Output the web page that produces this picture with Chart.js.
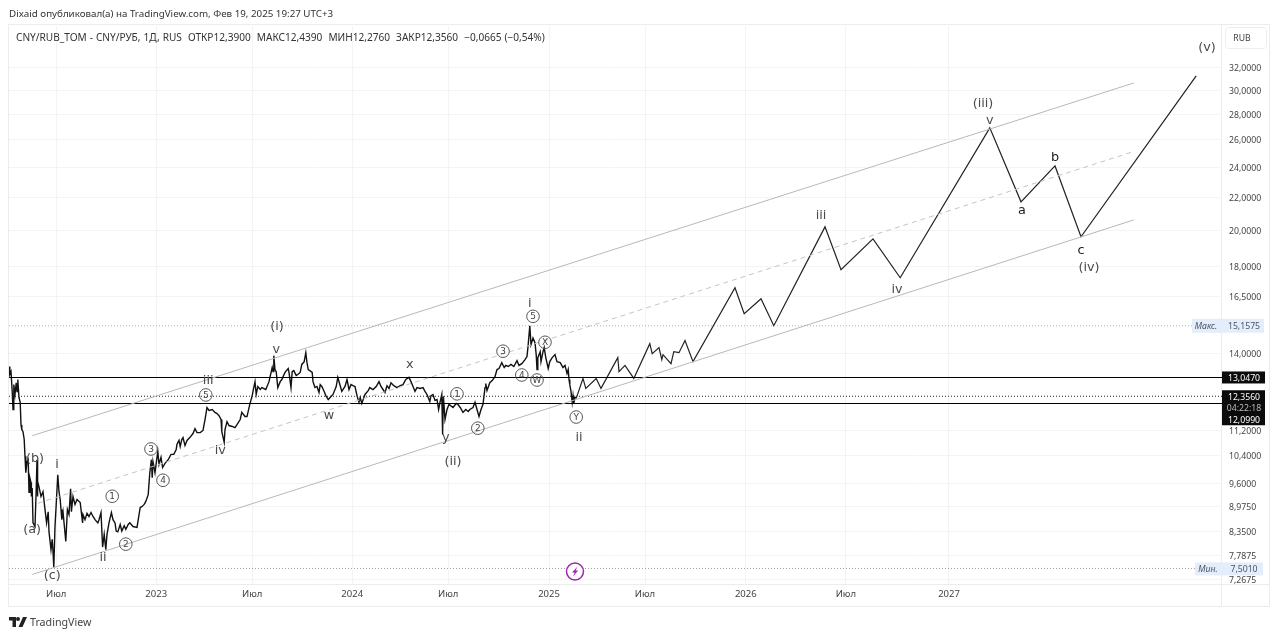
<!DOCTYPE html>
<html>
<head>
<meta charset="utf-8">
<title>CNY/RUB_TOM</title>
<script src="https://cdn.jsdelivr.net/npm/chart.js@4/dist/chart.umd.min.js"></script>
<style>
    html, body { margin: 0; padding: 0; background: #fff; overflow: hidden; }
    #wrap { position: relative; width: 1280px; height: 638px; }
    canvas { position: absolute; left: 0; top: 0; }
    .txt { position: absolute; font-family: "Noto Sans", sans-serif; color: #333; white-space: nowrap; }
    #publisher { left: 9px; top: 7px; font-size: 9.77px; }
    #legend { left: 16px; top: 30px; font-size: 10.1px; word-spacing: 0.4px; }
    #brand { left: 30px; top: 615px; font-size: 10.7px; color: #444; }
    #logo { position: absolute; left: 9px; top: 617px; }
</style>
</head>
<body>
<div id="wrap">
    <canvas id="chart" width="1280" height="638"></canvas>
    <div class="txt" id="publisher">Dixaid опубликовал(а) на TradingView.com, Фев 19, 2025 19:27 UTC+3</div>
    <div class="txt" id="legend">CNY/RUB_TOM - CNY/РУБ, 1Д, RUS&nbsp; ОТКР12,3900&nbsp; МАКС12,4390&nbsp; МИН12,2760&nbsp; ЗАКР12,3560&nbsp; −0,0665 (−0,54%)</div>
    <svg id="logo" width="18" height="10" viewBox="0 0 36 20"><path fill="#222" d="M0 0h14v20H7V7H0zM18 0a4 4 0 1 1 0 8 4 4 0 0 1 0-8zM28 0h8l-9 20h-8z"/></svg>
    <div class="txt" id="brand">TradingView</div>
</div>

<script>
// ---------------- DATA ----------------

// x is the daily bar number, y the price in RUB
const priceBars = [
    0,1,2.5,4,5,6,7.5,9,10,11,12.5,14,15,16,17.5,19,20,21,22.5,24,25,26,27.5,28,29,30,32.5,34,35,35.5,36,37.5,40,42.5,45,47,49,50,52.5,54,55,56,57.5,59,
    61,62.5,64,65,66,67.5,71,73,75,77,78,80,82.5,85,89,92,92.5,95,97.5,100,102.5,105,107.5,111,112.5,115,117,119,121,122.5,125,128,130,132.5,134,136,139,141,144,146,149,151,155,160,164,166,169,171,174,176,178,179,180,182.5,186,187.5,190,192,195,199,
    202.5,206,209,210,212.5,214,216,217.5,220,222.5,226,230,232.5,235,239,242.5,245,247.5,250,254,257.5,260,262.5,265,266,269,270,272.5,275,279,282.5,285,289,291,295,297.5,
    301,304,305,307.5,309,311,314,316,321,325,329,330,331,332.5,334,336,339,341,345,349,350,352.5,354,356,359,361,364,366,369,371,372.5,374,376,379,380,382.5,385,387.5,389,391,394,396,399,
    402.5,405,409,411,414,416,420,422.5,425,427.5,430,432.5,435,437.5,439,441,445,449,451,455,459,462.5,465,467.5,470,472.5,475,477.5,481,485,489,492.5,496,500,502.5,505,507.5,510,514,517.5,520,522.5,526,527.5,530,532.5,535,537,539,541,542,543,545,547.5,550,555,559,561,564,567.5,571,574,576,580,582.5,585,587.5,590,592.5,595,596,597.5,
    601,604,607.5,610,612.5,616,619,621,624,627.5,631,635,637.5,641,645,647.5,649,651,652.5,655,657.5,659,660,661,664,665,667.5,669,671,674,676,679,682.5,685,689,692.5,695,697.5,699,700,701,702.5,704,705,706,707.5,709
];
const priceValues = [
    13.47,13.16,13.27,12.53,11.89,12.78,12.42,12.85,12.53,12.97,12.31,12.14,11.38,11.22,11.15,10.90,10.38,9.90,10.22,10.28,9.35,9.76,9.62,9.24,9.47,8.56,8.47,9.43,10.28,9.24,9.65,9.50,9.24,9.37,8.90,8.56,8.84,8.34,7.92,8.16,7.88,7.52,8.47,9.03,
    9.84,9.37,9.16,8.90,8.64,8.84,8.11,8.90,8.77,9.45,8.84,9.24,9.03,9.16,9.08,8.56,8.77,8.64,8.80,8.72,8.82,8.72,8.64,8.56,8.64,8.82,7.98,8.28,7.92,8.28,8.56,8.82,8.64,8.56,8.36,8.34,8.52,8.36,8.49,8.40,8.52,8.56,8.47,8.45,8.95,8.97,9.03,9.11,9.29,9.90,10.28,9.76,10.22,9.90,10.53,10.14,10.35,10.05,10.17,10.28,
    10.44,10.44,10.59,10.75,10.87,10.68,10.90,10.96,10.71,10.87,10.96,11.09,11.25,11.12,11.12,11.19,11.55,11.96,11.86,11.89,11.79,11.75,11.68,11.55,11.15,10.81,11.22,11.48,11.35,11.32,11.28,11.38,11.55,11.79,11.65,11.65,
    12.07,12.38,12.53,12.89,12.42,12.71,12.60,12.67,12.60,12.89,13.43,13.27,13.90,13.35,13.27,12.67,12.89,12.97,13.24,13.39,13.24,12.67,13.27,13.31,13.12,13.16,13.24,13.55,13.66,14.02,13.62,13.35,13.31,13.24,12.89,12.67,12.71,12.49,12.78,12.71,12.53,12.38,12.24,
    12.35,12.42,12.71,13.05,12.74,12.53,12.71,12.97,12.60,12.78,12.74,12.71,12.38,12.14,12.31,12.10,12.42,12.56,12.67,12.60,12.71,12.89,12.71,12.60,12.49,12.74,12.64,12.85,12.74,12.67,12.74,12.78,12.97,13.05,12.89,12.71,12.53,12.67,12.64,12.67,12.53,12.42,12.17,12.38,12.42,12.21,12.24,11.89,12.17,12.42,11.06,12.35,11.55,11.89,12.07,11.96,12.10,12.07,11.96,11.79,11.89,11.82,11.89,11.96,12.14,11.89,11.65,11.89,12.07,12.67,12.82,12.56,
    12.85,12.93,13.08,13.35,13.39,13.62,13.43,13.51,13.47,13.55,13.47,13.70,13.51,13.58,13.74,13.86,14.35,15.16,14.35,14.63,14.43,13.94,13.35,13.82,14.06,13.66,14.06,14.23,13.82,13.39,13.66,13.82,13.94,13.66,13.62,13.43,13.51,13.20,13.35,12.97,12.78,12.53,12.14,12.38,12.10,12.31,12.31
];

// the hand drawn forecast path
const forecastBars = [709,717.5,721,734,740,761,762.5,770,781,801,804,812.5,816,817.5,827.5,831,837.5,845,855,907.5,919,940,956,1020,1040,1080,1114,1226,1265,1307.5,1340,1484];
const forecastValues = [12.28,13.01,12.64,13.01,12.64,13.82,13.27,13.51,13.01,14.39,13.98,14.23,13.74,13.94,13.58,14.06,14.02,14.52,13.66,16.92,15.70,16.39,15.16,20.19,17.83,19.50,17.42,26.90,21.71,24.09,19.62,31.27];

// channel: [start bar, start price, end bar, end price]
const channelUpper = [29, 11.02, 1406, 30.64];
const channelMiddle = [36, 9.06, 1406, 25.12];
const channelLower = [29, 7.37, 1406, 20.6];

const lastPrice = 12.356;
const resistance = 13.047;
const support = 12.099;
const highPrice = 15.1575;
const lowPrice = 7.501;

const yTickValues = [32, 30, 28, 26, 24, 22, 20, 18, 16.5, 14, 11.2, 10.4, 9.6, 8.975, 8.35, 7.7875, 7.2675];
const xTickBars = [59, 184, 304, 429, 549, 675, 795, 921, 1046, 1175];
const xTickLabels = ["Июл", "2023", "Июл", "2024", "Июл", "2025", "Июл", "2026", "Июл", "2027"];

// wave marks: text, bar, price
const waveLabels = [
    ["(v)", 1497.5, 34.0], ["(iii)", 1217.5, 28.92], ["v", 1226, 27.53], ["iii", 1015, 20.9],
    ["(iv)", 1350, 17.98], ["iv", 1110, 16.87],
    ["(i)", 335, 15.15], ["v", 334, 14.18], ["i", 651, 16.2], ["x", 501, 13.58], ["w", 400, 11.72],
    ["y", 546, 10.99], ["(ii)", 555, 10.25], ["ii", 712.5, 10.99], ["iii", 249, 12.97], ["iv", 264, 10.59],
    ["(b)", 32.5, 10.35], ["i", 60, 10.15], ["(a)", 29, 8.42], ["(c)", 54, 7.37], ["ii", 117.5, 7.75]
];
const darkLabels = [["b", 1307.5, 24.73], ["a", 1266, 21.2], ["c", 1340, 18.89]];
const circledLabels = [
    ["5", 655, 15.6], ["X", 670, 14.47], ["3", 617.5, 14.1], ["4", 641, 13.16], ["W", 660, 12.97],
    ["1", 560, 12.46], ["2", 586, 11.28], ["Y", 709, 11.65], ["5", 246, 12.42], ["3", 177.5, 10.62],
    ["4", 192.5, 9.70], ["1", 129, 9.26], ["2", 146, 8.06]
];
const boltBar = 707.5;

// ---------------- HELPERS ----------------

function zipPoints(xs, ys) {
    return xs.map((x, i) => ({ x: x, y: ys[i] }));
}

function channelPoints(c) {
    return [{ x: c[0], y: c[1] }, { x: c[2], y: c[3] }];
}

function levelPoints(price) {
    return [{ x: 0, y: price }, { x: 1516.25, y: price }];
}

function priceText(v) {
    return v.toFixed(4).replace(".", ",");
}

const lineBase = { pointRadius: 0, fill: false, tension: 0, parsing: false, normalized: true };

// ---------------- PLUGINS ----------------

const framePlugin = {
    id: "frame",
    beforeDraw(chart) {
        const ctx = chart.ctx;
        ctx.save();
        ctx.strokeStyle = "#ececec";
        ctx.lineWidth = 1;
        ctx.strokeRect(8.5, 24.5, 1261, 582);
        ctx.beginPath();
        ctx.moveTo(1221.5, 24);
        ctx.lineTo(1221.5, 607);
        ctx.moveTo(9, 584.5);
        ctx.lineTo(1270, 584.5);
        ctx.stroke();
        ctx.restore();
    }
};

const marksPlugin = {
    id: "marks",
    afterDraw(chart) {
        const ctx = chart.ctx;
        const x = chart.scales.x;
        const y = chart.scales.y;
        ctx.save();
        ctx.textAlign = "center";
        ctx.textBaseline = "middle";

        // wave labels
        ctx.font = '12.8px "DejaVu Sans"';
        ctx.fillStyle = "#4a4a4a";
        waveLabels.forEach(w => {
            ctx.fillText(w[0], x.getPixelForValue(w[1]), y.getPixelForValue(w[2]) + 1);
        });
        ctx.fillStyle = "#1c1c1c";
        darkLabels.forEach(w => {
            ctx.fillText(w[0], x.getPixelForValue(w[1]), y.getPixelForValue(w[2]) + 1);
        });

        circledLabels.forEach(c => {
            const px = x.getPixelForValue(c[1]);
            const py = y.getPixelForValue(c[2]) + 0.5;
            ctx.strokeStyle = "#555";
            ctx.lineWidth = 1;
            ctx.beginPath();
            ctx.arc(px, py, 6.3, 0, Math.PI * 2);
            ctx.stroke();
            ctx.fillStyle = "#444";
            ctx.font = '9px "DejaVu Sans"';
            ctx.fillText(c[0], px, py + 0.5);
        });

        // purple event icon under the last bar
        const bx = x.getPixelForValue(boltBar);
        const by = y.getPixelForValue(lowPrice) + 3;
        ctx.fillStyle = "#fff";
        ctx.strokeStyle = "#9c27b0";
        ctx.lineWidth = 1.5;
        ctx.beginPath();
        ctx.arc(bx, by, 8.5, 0, Math.PI * 2);
        ctx.fill();
        ctx.stroke();
        ctx.fillStyle = "#9c27b0";
        ctx.beginPath();
        ctx.moveTo(bx + 2.5, by - 5);
        ctx.lineTo(bx - 3, by + 1);
        ctx.lineTo(bx - 0.3, by + 1);
        ctx.lineTo(bx - 2, by + 5);
        ctx.lineTo(bx + 3.2, by - 1);
        ctx.lineTo(bx + 0.5, by - 1);
        ctx.closePath();
        ctx.fill();

        // price tags on the axis
        ctx.font = '8.7px "Noto Sans"';
        ctx.fillStyle = "#e3eefa";
        const maxY = y.getPixelForValue(highPrice);
        const minY = y.getPixelForValue(lowPrice);
        ctx.fillRect(1192, maxY - 7, 72, 14);
        ctx.fillRect(1195, minY - 6, 68, 13);
        ctx.fillStyle = "#4a5568";
        ctx.fillText(priceText(highPrice), 1244, maxY + 1);
        ctx.fillText(priceText(lowPrice), 1244, minY + 1);
        ctx.font = 'italic 8.7px "Noto Sans"';
        ctx.fillText("Макс.", 1206, maxY + 1);
        ctx.fillText("Мин.", 1208, minY + 1);

        ctx.fillStyle = "#0b0b0b";
        const resY = y.getPixelForValue(resistance);
        const lastY = y.getPixelForValue(lastPrice);
        ctx.fillRect(1222, resY - 6, 43, 12);
        ctx.fillRect(1222, lastY - 6, 43, 35);
        ctx.font = '8.7px "Noto Sans"';
        ctx.fillStyle = "#fff";
        ctx.fillText(priceText(resistance), 1244, resY + 1);
        ctx.fillText(priceText(lastPrice), 1244, lastY + 1);
        ctx.fillText(priceText(support), 1244, lastY + 24);
        ctx.fillStyle = "#bbb";
        ctx.fillText("04:22:18", 1244, lastY + 12);

        // currency box
        ctx.fillStyle = "#fff";
        ctx.strokeStyle = "#eeeeee";
        ctx.lineWidth = 1;
        ctx.beginPath();
        ctx.roundRect(1225.5, 27.5, 41, 21, 3);
        ctx.fill();
        ctx.stroke();
        ctx.fillStyle = "#444";
        ctx.fillText("RUB", 1242, 39);
        ctx.restore();
    }
};

// ---------------- CHART ----------------

new Chart(document.getElementById("chart"), {
    type: "line",
    data: {
        datasets: [
            { ...lineBase, label: "Макс.", data: levelPoints(highPrice), borderColor: "#b5b5b5", borderWidth: 1, borderDash: [1, 2] },
            { ...lineBase, label: "Мин.", data: levelPoints(lowPrice), borderColor: "#9a9a9a", borderWidth: 1, borderDash: [1, 2] },
            { ...lineBase, label: "Upper", data: channelPoints(channelUpper), borderColor: "#b8b8b8", borderWidth: 1 },
            { ...lineBase, label: "Middle", data: channelPoints(channelMiddle), borderColor: "#c4c4c4", borderWidth: 1, borderDash: [5, 4] },
            { ...lineBase, label: "Lower", data: channelPoints(channelLower), borderColor: "#b8b8b8", borderWidth: 1 },
            { ...lineBase, label: "13,0470", data: levelPoints(resistance), borderColor: "#000", borderWidth: 1.2 },
            { ...lineBase, label: "12,0990", data: levelPoints(support), borderColor: "#000", borderWidth: 1.2 },
            { ...lineBase, label: "12,3560", data: levelPoints(lastPrice), borderColor: "#222", borderWidth: 1, borderDash: [1, 2] },
            { ...lineBase, label: "CNY/RUB_TOM", data: zipPoints(priceBars, priceValues), borderColor: "#111", borderWidth: 1.4 },
            { ...lineBase, label: "Forecast", data: zipPoints(forecastBars, forecastValues), borderColor: "#222", borderWidth: 1.2 }
        ]
    },
    options: {
        responsive: false,
        animation: false,
        events: [],
        layout: { padding: { left: 9, top: 24, right: 10, bottom: 31 } },
        plugins: {
            legend: { display: false },
            title: { display: false },
            tooltip: { enabled: false }
        },
        scales: {
            x: {
                type: "linear",
                min: 0,
                max: 1516.25,
                afterBuildTicks: scale => { scale.ticks = xTickBars.map(v => ({ value: v })); },
                afterFit: scale => { scale.height = 23; },
                border: { display: false },
                grid: { color: "#f4f4f4", drawTicks: false },
                ticks: {
                    autoSkip: false,
                    maxRotation: 0,
                    padding: 5,
                    color: "#444",
                    font: { family: "Noto Sans", size: 9.5 },
                    callback: value => xTickLabels[xTickBars.indexOf(value)]
                }
            },
            y: {
                type: "logarithmic",
                position: "right",
                min: 7.17,
                max: 36.35,
                afterBuildTicks: scale => { scale.ticks = yTickValues.map(v => ({ value: v })); },
                afterFit: scale => { scale.width = 48; },
                border: { display: false },
                grid: { color: "#f4f4f4", drawTicks: false },
                ticks: {
                    autoSkip: false,
                    padding: 7,
                    labelOffset: 1,
                    color: "#444",
                    font: { family: "Noto Sans", size: 8.7 },
                    callback: value => priceText(value)
                }
            }
        }
    },
    plugins: [framePlugin, marksPlugin]
});
</script>
</body>
</html>
